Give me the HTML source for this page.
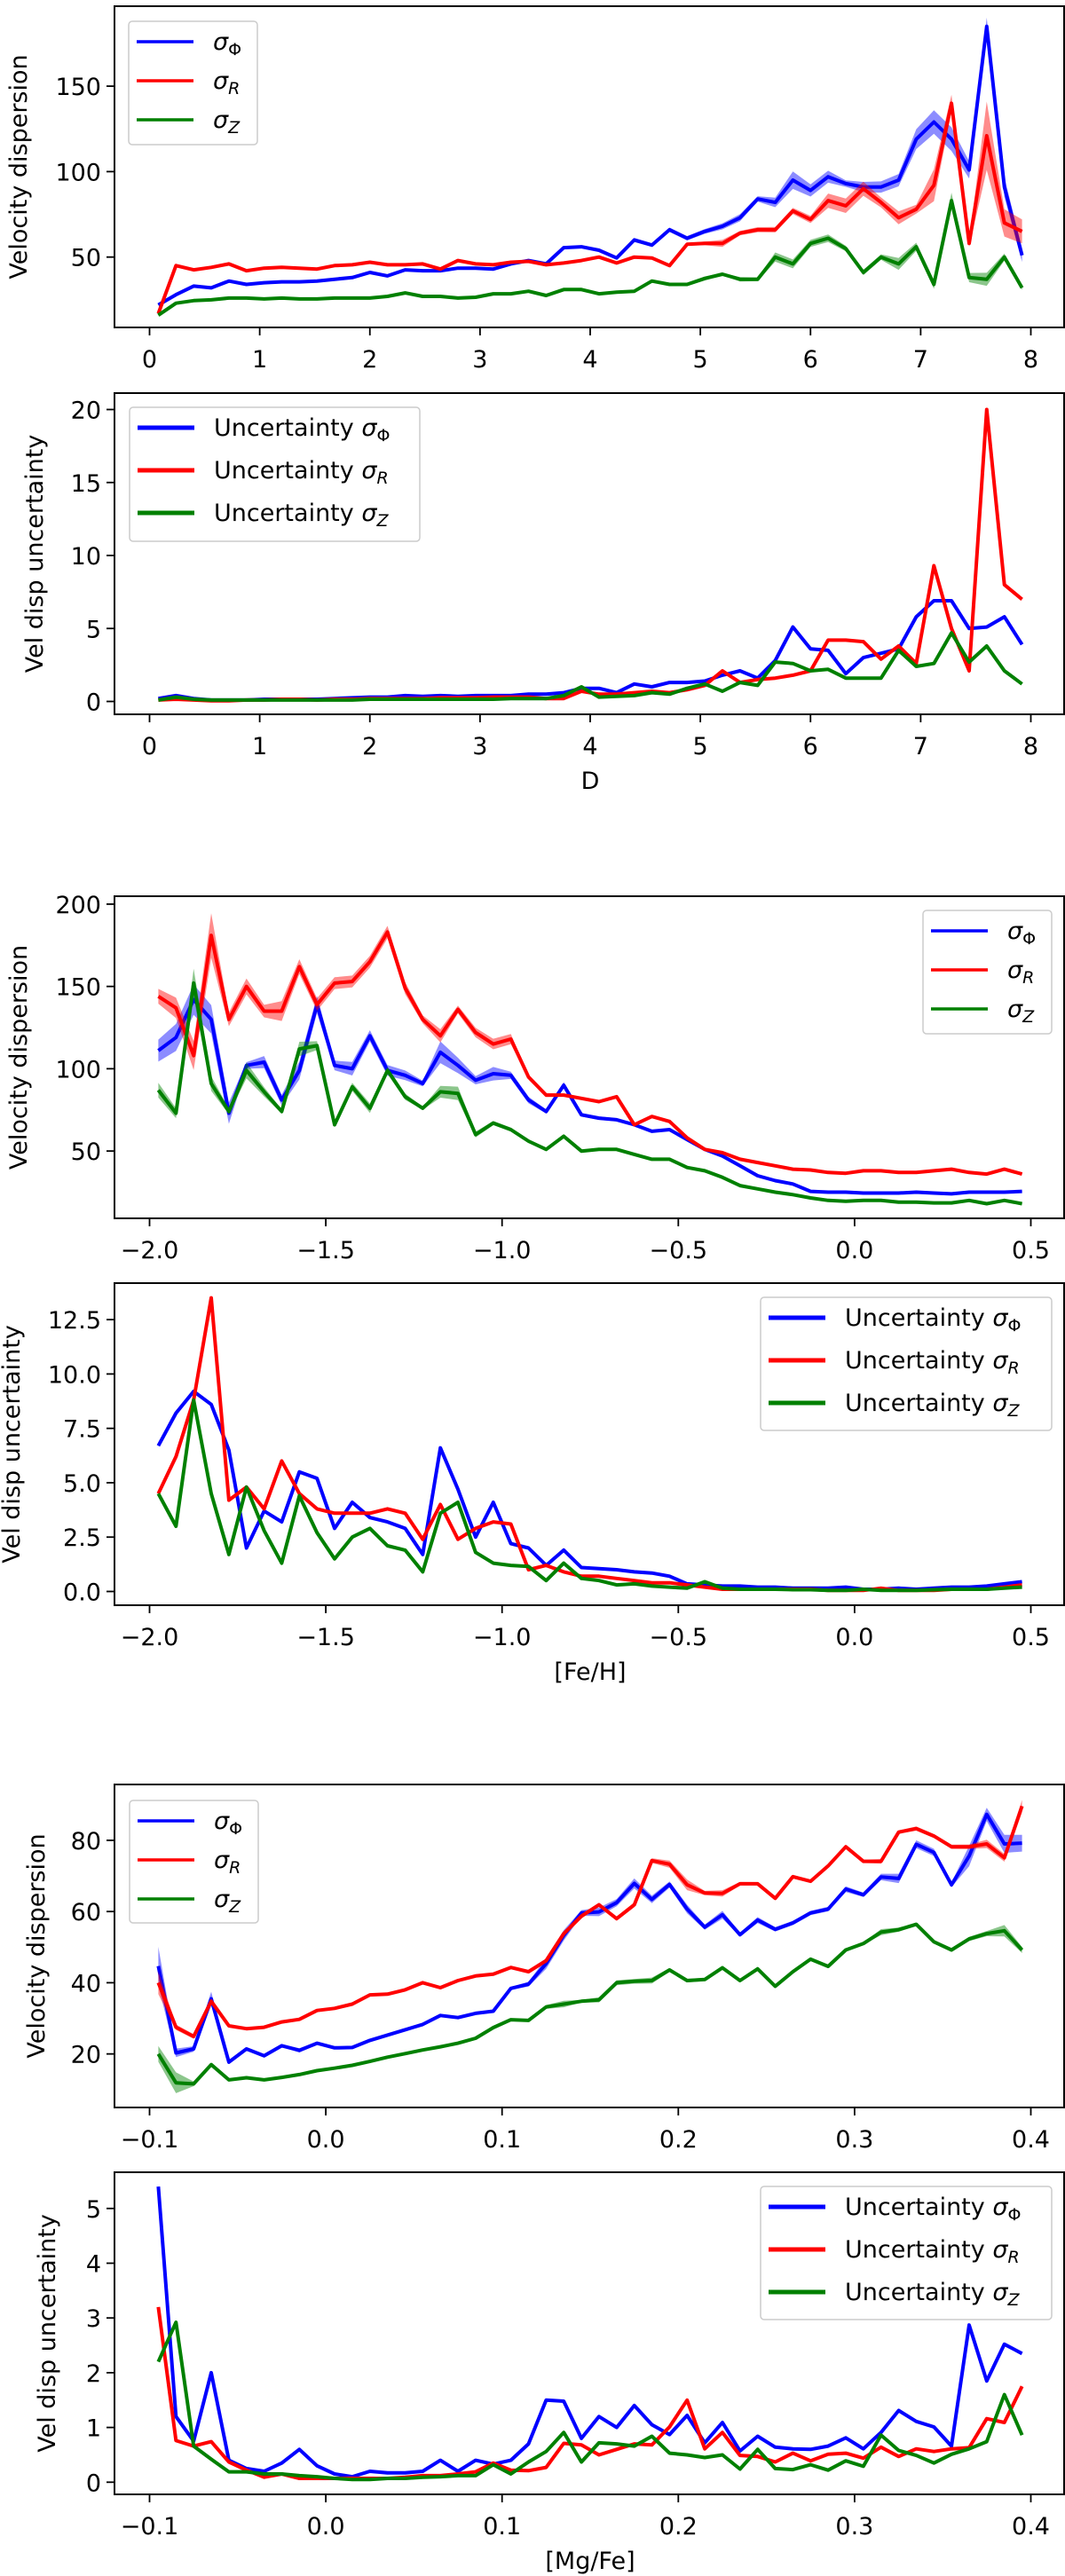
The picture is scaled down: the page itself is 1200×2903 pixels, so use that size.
<!DOCTYPE html>
<html><head><meta charset="utf-8"><style>
html,body{margin:0;padding:0;background:#fff;}
svg{display:block;font-family:"DejaVu Sans","Liberation Sans",sans-serif;}
</style></head><body>
<svg id="fig" width="1200" height="2903" viewBox="0 0 1200 2903" xmlns="http://www.w3.org/2000/svg"></svg>
<script>
// ---- Data: panel 1/2 (distance D) ----
const dX = Array.from({length:50},(_, i)=>+(0.08+0.16*i).toFixed(2));
const dPhi = [22,28,33,32,36,34,35,35.5,35.5,36,37,38,41,39,42.5,42,42,43.5,43.5,43,46,48,46,55.5,56,54,49.5,60,57,66,61,65,68,73,84,82,95,89,97,93,91,91,95,119,129,119,101,185,91,51];
const dR = [17,45,42.5,44,46,42,43.5,44,43.5,43,45,45.5,47,45.5,45.5,46,43,48,46,45.5,47,47.5,45.5,46.5,48,50,46.5,50,49.5,45,57.5,58,58,64,66,66,77,72,83,80,90,82,73,78,92,140,58,121,70,65];
const dZ = [16,23,24.5,25,26,26,25.5,26,25.5,25.5,26,26,26,27,29,27,27,26,26.5,28.5,28.5,30,27.5,31,31,28.5,29.5,30,36,34,34,37.5,40,37,37,50,46,58,61,55,41,50,46,56,34,83,38,37,50,32];
const dUPhi = [0.2,0.4,0.2,0.1,0.1,0.1,0.15,0.15,0.15,0.15,0.2,0.25,0.3,0.3,0.4,0.35,0.4,0.35,0.4,0.4,0.4,0.5,0.5,0.6,0.9,0.9,0.6,1.2,1.0,1.3,1.3,1.4,1.8,2.1,1.6,2.8,5.1,3.6,3.5,1.9,3.0,3.3,3.6,5.8,6.9,6.9,5.0,5.1,5.8,3.9];
const dUR = [0.1,0.15,0.1,0.05,0.05,0.1,0.1,0.15,0.15,0.1,0.15,0.15,0.2,0.2,0.2,0.2,0.25,0.25,0.25,0.3,0.3,0.3,0.2,0.2,0.7,0.5,0.5,0.6,0.7,0.6,0.8,1.1,2.1,1.3,1.5,1.6,1.8,2.1,4.2,4.2,4.1,2.9,3.8,2.6,9.3,5.0,2.1,20.0,8.0,7.0];
const dUZ = [0.1,0.3,0.15,0.1,0.1,0.1,0.1,0.1,0.1,0.1,0.1,0.1,0.15,0.15,0.15,0.15,0.15,0.15,0.15,0.15,0.2,0.2,0.2,0.4,1.0,0.3,0.35,0.4,0.6,0.5,0.9,1.2,0.7,1.3,1.1,2.7,2.6,2.1,2.2,1.6,1.6,1.6,3.5,2.4,2.6,4.7,2.7,3.8,2.1,1.2];
// ---- Data: panel 3/4 ([Fe/H]) ----
const fX = Array.from({length:50},(_, i)=>+(-1.975+0.05*i).toFixed(3));
const fPhi = [111,119,142,130,73,102,104,81,99,139,102,100,120,99,96,91,110,102,93,97,96,81,74,90,72,70,69,66,62,63,57,51,47,41,35,32,30,25.5,25,25,24.5,24.5,24.5,25,24.5,24,25,25,25,25.5];
const fR = [144,137,108,181,130,150,135,135,162,139,152,153,165,183,149,130,120,136,122,115,118,95,84,84,82,80,83,66,71,68,58,51,49,45,43,41,39,38.5,37,36.5,38,38,37,37,38,39,37,36,39,36];
const fZ = [87,73,152,91,74,99,86,74,112,114,66,89,76,99,83,76,86,85,60,67,63,56,51,59,50,51,51,48,45,45,40,38,34,29,27,25,23.5,21.5,20,19.5,20,20,19,19,18.5,18.5,20,18,20,18];
const fUPhi = [6.7,8.2,9.2,8.6,6.5,2.0,3.7,3.2,5.5,5.2,2.9,4.1,3.4,3.2,2.9,1.7,6.6,4.7,2.5,4.1,2.2,2.0,1.2,1.9,1.1,1.05,1.0,0.9,0.85,0.7,0.35,0.3,0.25,0.25,0.2,0.2,0.15,0.15,0.15,0.2,0.1,0.1,0.15,0.1,0.15,0.2,0.2,0.25,0.35,0.45];
const fUR = [4.5,6.2,8.8,13.5,4.2,4.8,3.8,6.0,4.5,3.8,3.6,3.6,3.6,3.8,3.6,2.4,4.0,2.4,2.9,3.2,3.1,1.0,1.2,0.9,0.7,0.7,0.6,0.5,0.4,0.4,0.3,0.2,0.1,0.1,0.1,0.1,0.1,0.1,0.05,0.05,0.05,0.15,0.05,0.05,0.05,0.1,0.1,0.1,0.2,0.3];
const fUZ = [4.5,3.0,8.8,4.5,1.7,4.8,2.8,1.3,4.4,2.7,1.5,2.5,2.9,2.1,1.9,0.9,3.6,4.1,1.8,1.3,1.2,1.15,0.5,1.3,0.6,0.5,0.3,0.35,0.25,0.2,0.15,0.45,0.15,0.1,0.1,0.1,0.08,0.08,0.05,0.05,0.1,0.05,0.05,0.05,0.08,0.1,0.1,0.1,0.15,0.2];
// ---- Data: panel 5/6 ([Mg/Fe]) ----
const mX = Array.from({length:50},(_, i)=>+(-0.095+0.01*i).toFixed(3));
const mPhi = [44.7,20.3,21.4,35.5,17.7,21.4,19.5,22.3,21,23,21.7,21.8,23.8,25.3,26.8,28.3,30.8,30.2,31.4,32,38.4,39.6,45.4,53.3,59.6,59.9,62.5,67.9,63.4,67.6,60.7,55.6,59.1,53.5,57.6,55,56.8,59.6,60.7,66.3,64.7,69.7,69.3,78.9,76.6,67.5,75.6,87.3,79,79.2];
const mR = [40,27.5,24.9,34.8,27.9,27.1,27.5,29,29.7,32.2,32.8,34,36.6,36.8,38,40,38.6,40.6,41.9,42.4,44.3,43.1,46.2,53.8,58.7,61.9,58,61.9,74.3,73.3,67.5,65.2,65.1,67.8,67.8,63.7,69.8,68.5,72.8,78.2,74.1,74.1,82.3,83.3,81.2,78.2,78.2,79,75.1,89.6];
const mZ = [20,11.9,11.6,17,12.7,13.3,12.7,13.4,14.2,15.3,16,16.8,17.9,19.1,20.1,21.1,22,23,24.4,27.4,29.6,29.4,33.2,34,34.8,35.2,40,40.4,40.6,43.6,40.6,40.9,44.2,40.6,43.9,39,43.1,46.6,44.6,49.2,51,54.2,54.9,56.4,51.5,49.2,52.3,53.8,54.6,49.2];
const mUPhi = [5.4,1.2,0.75,2.0,0.4,0.25,0.2,0.35,0.6,0.3,0.15,0.1,0.2,0.17,0.17,0.2,0.4,0.2,0.4,0.33,0.4,0.7,1.5,1.48,0.8,1.2,1.0,1.4,1.05,0.87,1.22,0.72,1.09,0.57,0.84,0.64,0.61,0.6,0.66,0.81,0.61,0.91,1.31,1.11,1.01,0.66,2.87,1.85,2.52,2.35];
const mUR = [3.2,0.76,0.66,0.74,0.37,0.22,0.09,0.15,0.07,0.07,0.07,0.07,0.07,0.07,0.09,0.12,0.12,0.15,0.19,0.35,0.22,0.21,0.27,0.71,0.68,0.5,0.6,0.7,0.68,1.01,1.5,0.61,0.91,0.49,0.47,0.37,0.53,0.39,0.51,0.53,0.44,0.64,0.47,0.61,0.56,0.61,0.63,1.16,1.09,1.75];
const mUZ = [2.2,2.92,0.66,0.42,0.19,0.19,0.15,0.15,0.12,0.1,0.07,0.05,0.05,0.07,0.07,0.09,0.1,0.12,0.12,0.32,0.15,0.37,0.56,0.91,0.37,0.72,0.7,0.66,0.84,0.53,0.5,0.45,0.5,0.24,0.6,0.25,0.23,0.32,0.22,0.39,0.29,0.86,0.58,0.49,0.35,0.51,0.61,0.74,1.6,0.86];
// ---- Tick labels ----
const dTicks = [0,1,2,3,4,5,6,7,8];
const fTicks = [-2.0,-1.5,-1.0,-0.5,0.0,0.5];
const mTicks = [-0.1,0.0,0.1,0.2,0.3,0.4];
const p1YTicks = [50,100,150];
const p2YTicks = [0,5,10,15,20];
const p3YTicks = [50,100,150,200];
const p4YTicks = [0,2.5,5,7.5,10,12.5];
const p5YTicks = [20,40,60,80];
const p6YTicks = [0,1,2,3,4,5];

const NS = "http://www.w3.org/2000/svg";
const svg = document.getElementById('fig');
const COL = {phi:'#0000ff', r:'#ff0000', z:'#008000'};
function mk(tag, attrs, parent){ const e=document.createElementNS(NS,tag); for(const k in attrs) e.setAttribute(k,attrs[k]); (parent||svg).appendChild(e); return e; }
function fmt(v,dec){ const s=v.toFixed(dec); return s.replace('-','\u2212'); }

function panel(P){
  const g = mk('g',{});
  
  
  const L=129,R=1199, X0=168.5, X1=1161.5;
  const sx = v => X0 + (v-P.xmin)/(P.xmax-P.xmin)*(X1-X0);
  const sy = v => P.y0 - v*P.k;
  P.series.forEach(s=>{
    if(s.band){
      let up='', dn='';
      P.x.forEach((xv,i)=>{ up += (i?'L':'M')+sx(xv).toFixed(1)+','+sy(s.y[i]+s.band[i]).toFixed(1); });
      for(let i=P.x.length-1;i>=0;i--){ dn += 'L'+sx(P.x[i]).toFixed(1)+','+sy(Math.max(0,s.y[i]-s.band[i])).toFixed(1); }
      const b = mk('path',{d:up+dn+'Z',fill:s.c,'fill-opacity':0.45,stroke:'none'},g);
      
      
    }
    let d='';
    P.x.forEach((xv,i)=>{ d += (i?'L':'M')+sx(xv).toFixed(1)+','+sy(s.y[i]).toFixed(1); });
    const p = mk('path',{d:d,fill:'none',stroke:s.c,'stroke-width':4,'stroke-linejoin':'round'},g);
    
    
  });
  const fr = mk('rect',{x:L,y:P.top,width:R-L,height:P.bot-P.top,fill:'none',stroke:'#000','stroke-width':2},g);
  
  
  P.xt.forEach(t=>{
    const x=sx(t);
    mk('line',{x1:x,x2:x,y1:P.bot,y2:P.bot+9,stroke:'#000','stroke-width':1.8},g);
    const tx = mk('text',{x:x,y:P.bot+45,'font-size':27,'text-anchor':'middle'},g);
    tx.textContent = fmt(t,P.xdec);
    
    
  });
  P.yt.forEach(t=>{
    const y=sy(t);
    mk('line',{x1:L-9,x2:L,y1:y,y2:y,stroke:'#000','stroke-width':1.8},g);
    const ty = mk('text',{x:L-15,y:y+10,'font-size':27,'text-anchor':'end'},g);
    ty.textContent = fmt(t,P.ydec);
    
    
  });
  const yl = mk('text',{x:0,y:0,'font-size':27,'text-anchor':'middle',transform:`translate(${P.ylx},${(P.top+P.bot)/2}) rotate(-90)`},g);
  yl.textContent = P.ylabel;
  
  
  if(P.xlabel){
    const xl = mk('text',{x:(X0+X1)/2,y:P.bot+84,'font-size':27,'text-anchor':'middle'},g);
    xl.textContent = P.xlabel;
    
    
  }
  const lg = mk('g',{},g);
  
  
  mk('rect',{x:P.lx,y:P.ly,width:P.lw,height:P.lh,rx:4,fill:'#fff','fill-opacity':0.8,stroke:'#cccccc','stroke-width':1.5},lg);
  P.series.forEach((s,i)=>{
    const ey = P.ly+23+i*P.lstep;
    const en = mk('g',{},lg);
    
    
    mk('line',{x1:P.lx+9,x2:P.lx+73,y1:ey,y2:ey,stroke:s.c,'stroke-width':P.lsw},en);
    const t = mk('text',{x:P.lx+95,y:ey+9,'font-size':27},en);
    const pre = P.unc ? 'Uncertainty ' : '';
    const sub = s.key==='sigma-phi' ? 'Φ' : (s.key==='sigma-r' ? 'R' : 'Z');
    const ital = s.key==='sigma-phi' ? 'normal' : 'italic';
    t.innerHTML = pre + '<tspan font-style="italic">σ</tspan><tspan font-size="19" dy="6" font-style="'+ital+'">'+sub+'</tspan>';
  });
}

const p1 = {name:'panel-distance-dispersion',x:dX,xmin:0,xmax:8,xt:dTicks,xdec:0,top:7,bot:369,y0:386,k:1.926,yt:p1YTicks,ydec:0,ylx:30,ylabel:'Velocity dispersion',
  series:[{key:'sigma-phi',c:COL.phi,y:dPhi,band:dUPhi},{key:'sigma-r',c:COL.r,y:dR,band:dUR},{key:'sigma-z',c:COL.z,y:dZ,band:dUZ}],
  lx:145,ly:24,lw:145,lh:139,lstep:44,lsw:3.5,unc:false};
const p2 = {name:'panel-distance-uncertainty',x:dX,xmin:0,xmax:8,xt:dTicks,xdec:0,top:443,bot:805,y0:790.5,k:16.45,yt:p2YTicks,ydec:0,ylx:48,ylabel:'Vel disp uncertainty',xlabel:'D',
  series:[{key:'sigma-phi',c:COL.phi,y:dUPhi},{key:'sigma-r',c:COL.r,y:dUR},{key:'sigma-z',c:COL.z,y:dUZ}],
  lx:146,ly:459,lw:327,lh:151,lstep:48,lsw:5,unc:true};
const p3 = {name:'panel-feh-dispersion',x:fX,xmin:-2.0,xmax:0.5,xt:fTicks,xdec:1,top:1010,bot:1373,y0:1389.9,k:1.855,yt:p3YTicks,ydec:0,ylx:30,ylabel:'Velocity dispersion',
  series:[{key:'sigma-phi',c:COL.phi,y:fPhi,band:fUPhi},{key:'sigma-r',c:COL.r,y:fR,band:fUR},{key:'sigma-z',c:COL.z,y:fZ,band:fUZ}],
  lx:1040,ly:1026,lw:145,lh:139,lstep:44,lsw:3.5,unc:false};
const p4 = {name:'panel-feh-uncertainty',x:fX,xmin:-2.0,xmax:0.5,xt:fTicks,xdec:1,top:1446,bot:1809,y0:1793.5,k:24.51,yt:p4YTicks,ydec:1,ylx:22,ylabel:'Vel disp uncertainty',xlabel:'[Fe/H]',
  series:[{key:'sigma-phi',c:COL.phi,y:fUPhi},{key:'sigma-r',c:COL.r,y:fUR},{key:'sigma-z',c:COL.z,y:fUZ}],
  lx:857,ly:1462,lw:328,lh:150,lstep:48,lsw:5,unc:true};
const p5 = {name:'panel-mgfe-dispersion',x:mX,xmin:-0.1,xmax:0.4,xt:mTicks,xdec:1,top:2011,bot:2375,y0:2394.9,k:4.012,yt:p5YTicks,ydec:0,ylx:50,ylabel:'Velocity dispersion',
  series:[{key:'sigma-phi',c:COL.phi,y:mPhi,band:mUPhi},{key:'sigma-r',c:COL.r,y:mR,band:mUR},{key:'sigma-z',c:COL.z,y:mZ,band:mUZ}],
  lx:146,ly:2029,lw:145,lh:138,lstep:44,lsw:3.5,unc:false};
const p6 = {name:'panel-mgfe-uncertainty',x:mX,xmin:-0.1,xmax:0.4,xt:mTicks,xdec:1,top:2448,bot:2811,y0:2797.3,k:61.7,yt:p6YTicks,ydec:0,ylx:62,ylabel:'Vel disp uncertainty',xlabel:'[Mg/Fe]',
  series:[{key:'sigma-phi',c:COL.phi,y:mUPhi},{key:'sigma-r',c:COL.r,y:mUR},{key:'sigma-z',c:COL.z,y:mUZ}],
  lx:857,ly:2464,lw:328,lh:150,lstep:48,lsw:5,unc:true};
[p1,p2,p3,p4,p5,p6].forEach(panel);
</script>
</body></html>
